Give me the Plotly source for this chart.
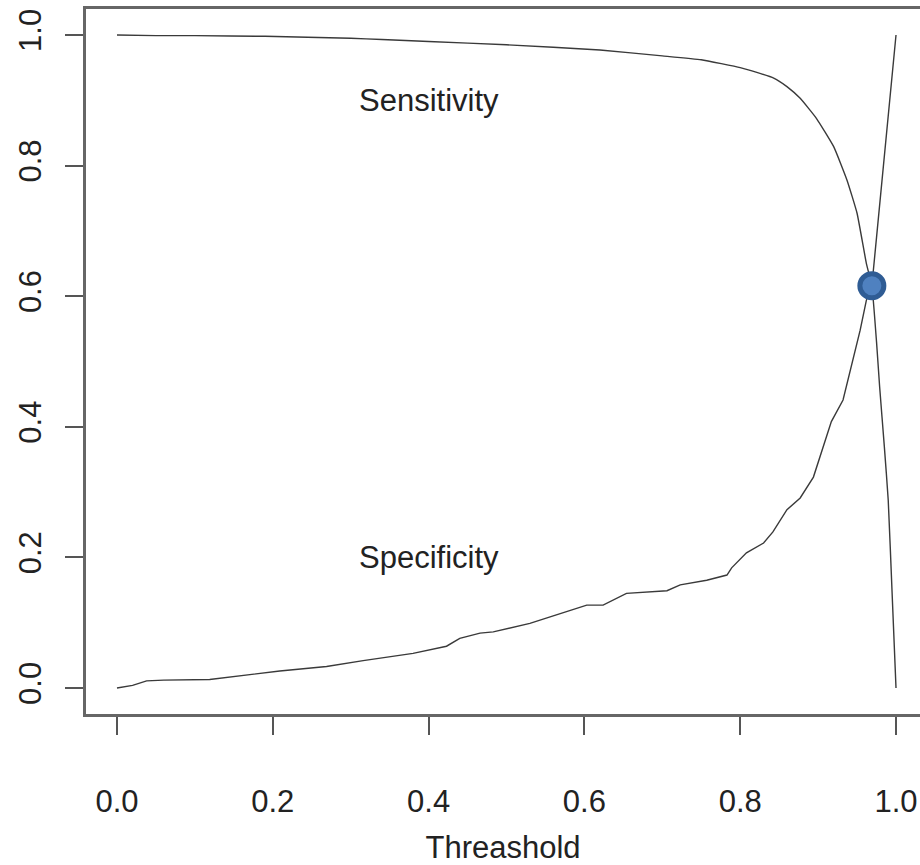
import plotly.graph_objects as go

# --- data ---
sens_x = [0.0, 0.05, 0.1, 0.19, 0.3, 0.34, 0.4, 0.5, 0.62, 0.7, 0.75, 0.8, 0.815, 0.843,
          0.86, 0.877, 0.898, 0.92, 0.937, 0.95, 0.962, 0.969, 0.975, 0.979, 0.985, 0.99,
          0.995, 1.0]
sens_y = [1.0, 0.999, 0.999, 0.998, 0.995, 0.993, 0.990, 0.985, 0.977, 0.968, 0.962, 0.950,
          0.945, 0.934, 0.921, 0.903, 0.872, 0.829, 0.778, 0.727, 0.650, 0.616, 0.53, 0.461,
          0.37, 0.288, 0.145, 0.0]

spec_x = [0.0, 0.02, 0.038, 0.06, 0.119, 0.16, 0.209, 0.269, 0.316, 0.38, 0.415, 0.423,
          0.44, 0.466, 0.483, 0.53, 0.564, 0.603, 0.624, 0.654, 0.706, 0.723, 0.757, 0.783,
          0.789, 0.808, 0.83, 0.842, 0.86, 0.877, 0.894, 0.917, 0.932, 0.945, 0.954, 0.962,
          0.969, 0.975, 0.982, 0.988, 1.0]
spec_y = [0.0, 0.004, 0.011, 0.012, 0.013, 0.019, 0.026, 0.033, 0.042, 0.053, 0.062, 0.064,
          0.076, 0.084, 0.086, 0.099, 0.112, 0.127, 0.127, 0.145, 0.149, 0.158, 0.165, 0.173,
          0.184, 0.207, 0.222, 0.239, 0.273, 0.291, 0.323, 0.408, 0.441, 0.502, 0.548, 0.594,
          0.616, 0.69, 0.775, 0.850, 1.0]

cut_x = [0.969]
cut_y = [0.616]

labels = ["Sensitivity", "Specificity"]
label_x = [0.4, 0.4]
label_y = [0.9, 0.2]

tick_vals = [0.0, 0.2, 0.4, 0.6, 0.8, 1.0]
tick_text = ["0.0", "0.2", "0.4", "0.6", "0.8", "1.0"]
x_title = "Threashold"

FONT = "Liberation Sans, Arial, Helvetica, sans-serif"
LINE = "#3a3a3a"

fig = go.Figure()
fig.add_trace(go.Scatter(x=sens_x, y=sens_y, mode="lines",
                         line=dict(color=LINE, width=1.4, shape="spline", smoothing=0.4),
                         showlegend=False))
fig.add_trace(go.Scatter(x=spec_x, y=spec_y, mode="lines",
                         line=dict(color=LINE, width=1.4), showlegend=False))
fig.add_trace(go.Scatter(x=cut_x, y=cut_y, mode="markers",
                         marker=dict(size=24, color="#4f81c0",
                                     line=dict(color="#2f5c94", width=5)),
                         showlegend=False))

for t, lx, ly in zip(labels, label_x, label_y):
    fig.add_annotation(x=lx, y=ly, text=t, showarrow=False, xanchor="center",
                       yanchor="middle", font=dict(family=FONT, size=31, color="#222"))

axis_common = dict(showgrid=False, zeroline=False, showline=True, linecolor="#666",
                   linewidth=2.5, ticks="outside", ticklen=18, tickwidth=1.5,
                   tickcolor="#555", tickvals=tick_vals, ticktext=tick_text,
                   tickfont=dict(family=FONT, size=31, color="#222"), automargin=False)

fig.update_xaxes(range=[-0.0398, 1.0308], mirror=True, ticklabelstandoff=40,
                 title=dict(text=x_title, standoff=29,
                            font=dict(family=FONT, size=31, color="#222")),
                 **axis_common)
fig.update_yaxes(range=[-0.0398, 1.0398], mirror=False, tickangle=-90,
                 ticklabelstandoff=12, **axis_common)

fig.update_layout(width=920, height=865, margin=dict(l=86, r=0, t=9, b=151),
                  plot_bgcolor="white", paper_bgcolor="white")

fig.write_html("out.html")
